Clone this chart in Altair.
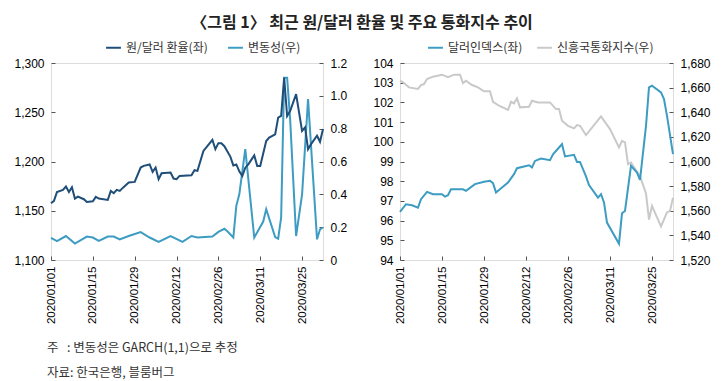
import altair as alt
import pandas as pd

FONT = "Noto Sans CJK KR"
NAVY = "#1f4e79"
TEAL = "#3d9cc2"
GRAY = "#c9c9c9"
TXT = "#333333"

title_text = "〈그림 1〉 최근 원/달러 환율 및 주요 통화지수 추이"
note_lines = ["주\u00a0\u00a0\u00a0: 변동성은 GARCH(1,1)으로 추정", "자료: 한국은행, 블룸버그"]

series_left = ["원/달러 환율(좌)", "변동성(우)"]
series_right = ["달러인덱스(좌)", "신흥국통화지수(우)"]

tick_dates = ["2020-01-01", "2020-01-15", "2020-01-29", "2020-02-12",
              "2020-02-26", "2020-03-11", "2020-03-25"]

won_dates = ["2020-01-01", "2020-01-02", "2020-01-03", "2020-01-05", "2020-01-06", "2020-01-07",
             "2020-01-08", "2020-01-09", "2020-01-10", "2020-01-12", "2020-01-13", "2020-01-15",
             "2020-01-16", "2020-01-17", "2020-01-20", "2020-01-21", "2020-01-22", "2020-01-23",
             "2020-01-24", "2020-01-25", "2020-01-27", "2020-01-29", "2020-01-31", "2020-02-01",
             "2020-02-03", "2020-02-04", "2020-02-05", "2020-02-06", "2020-02-07", "2020-02-10",
             "2020-02-11", "2020-02-12", "2020-02-13", "2020-02-17", "2020-02-18", "2020-02-19",
             "2020-02-21", "2020-02-24", "2020-02-25", "2020-02-26", "2020-02-27", "2020-02-28",
             "2020-03-01", "2020-03-02", "2020-03-03", "2020-03-04", "2020-03-05", "2020-03-06",
             "2020-03-07", "2020-03-09", "2020-03-10", "2020-03-11", "2020-03-13", "2020-03-14",
             "2020-03-16", "2020-03-17", "2020-03-18", "2020-03-19", "2020-03-20", "2020-03-21",
             "2020-03-23", "2020-03-25", "2020-03-26", "2020-03-27", "2020-03-28", "2020-03-30",
             "2020-03-31", "2020-04-01"]
won_values = [1157.6, 1160.0, 1169.0, 1171.2, 1174.6, 1169.1,
              1173.9, 1162.4, 1164.4, 1161.7, 1159.0, 1159.7,
              1164.1, 1162.4, 1161.0, 1170.2, 1167.8, 1171.2,
              1170.2, 1173.2, 1178.6, 1179.3, 1193.9, 1195.6,
              1197.0, 1189.5, 1193.9, 1182.0, 1188.1, 1188.8,
              1182.7, 1182.0, 1185.4, 1186.1, 1191.2, 1190.5,
              1210.8, 1222.0, 1212.5, 1218.6, 1218.6, 1215.5,
              1205.0, 1196.0, 1197.0, 1190.0, 1185.2, 1193.7,
              1197.1, 1206.2, 1195.4, 1195.4, 1220.8, 1224.3,
              1227.6, 1244.6, 1246.2, 1285.3, 1246.2, 1251.3,
              1268.4, 1231.1, 1234.6, 1212.5, 1217.6, 1226.1,
              1220.0, 1232.9]

vol_dates = ["2020-01-01", "2020-01-03", "2020-01-06", "2020-01-09", "2020-01-13", "2020-01-15",
             "2020-01-17", "2020-01-20", "2020-01-22", "2020-01-24", "2020-01-27", "2020-01-31",
             "2020-02-03", "2020-02-06", "2020-02-10", "2020-02-14", "2020-02-17", "2020-02-19",
             "2020-02-24", "2020-02-26", "2020-02-28", "2020-02-29", "2020-03-02", "2020-03-03",
             "2020-03-04", "2020-03-06", "2020-03-09", "2020-03-12", "2020-03-13", "2020-03-16",
             "2020-03-17", "2020-03-18", "2020-03-19", "2020-03-20", "2020-03-21", "2020-03-23",
             "2020-03-25", "2020-03-27", "2020-03-30", "2020-03-31", "2020-04-01"]
vol_values = [0.135, 0.115, 0.146, 0.100, 0.143, 0.137,
              0.116, 0.143, 0.143, 0.126, 0.146, 0.170,
              0.137, 0.110, 0.146, 0.110, 0.146, 0.137,
              0.143, 0.171, 0.190, 0.175, 0.137, 0.330,
              0.400, 0.675, 0.137, 0.234, 0.310, 0.140,
              0.130, 0.260, 1.110, 1.110, 0.860, 0.146,
              0.400, 0.980, 0.126, 0.187, 0.198]

dxy_dates = ["2020-01-01", "2020-01-03", "2020-01-05", "2020-01-07", "2020-01-08", "2020-01-10",
             "2020-01-12", "2020-01-15", "2020-01-16", "2020-01-17", "2020-01-18", "2020-01-22",
             "2020-01-23", "2020-01-26", "2020-01-29", "2020-01-31", "2020-02-01", "2020-02-02",
             "2020-02-04", "2020-02-06", "2020-02-08", "2020-02-09", "2020-02-13", "2020-02-14",
             "2020-02-15", "2020-02-17", "2020-02-20", "2020-02-21", "2020-02-23", "2020-02-24",
             "2020-02-25", "2020-02-28", "2020-02-29", "2020-03-01", "2020-03-03", "2020-03-04",
             "2020-03-07", "2020-03-08", "2020-03-09", "2020-03-10", "2020-03-14", "2020-03-15",
             "2020-03-16", "2020-03-18", "2020-03-20", "2020-03-21", "2020-03-23", "2020-03-24",
             "2020-03-25", "2020-03-28", "2020-03-29", "2020-03-30", "2020-04-01"]
dxy_values = [96.44, 96.83, 96.78, 96.66, 97.09, 97.46,
              97.34, 97.34, 97.22, 97.29, 97.59, 97.59,
              97.51, 97.85, 97.97, 98.02, 97.90, 97.43,
              97.68, 97.93, 98.36, 98.66, 98.81, 98.70,
              99.03, 99.15, 99.07, 99.37, 99.71, 99.88,
              99.26, 99.34, 98.98, 98.98, 98.24, 97.80,
              97.17, 97.34, 96.92, 95.90, 94.83, 96.37,
              96.49, 98.78, 98.44, 98.07, 100.81, 102.76,
              102.85, 102.51, 102.17, 101.32, 99.37]

em_dates = ["2020-01-01", "2020-01-02", "2020-01-04", "2020-01-07", "2020-01-08", "2020-01-09",
            "2020-01-10", "2020-01-12", "2020-01-15", "2020-01-17", "2020-01-19", "2020-01-21",
            "2020-01-22", "2020-01-23", "2020-01-25", "2020-01-27", "2020-01-29", "2020-01-31",
            "2020-02-01", "2020-02-03", "2020-02-06", "2020-02-07", "2020-02-08", "2020-02-09",
            "2020-02-10", "2020-02-13", "2020-02-14", "2020-02-16", "2020-02-20", "2020-02-22",
            "2020-02-23", "2020-02-24", "2020-02-26", "2020-02-28", "2020-02-29", "2020-03-01",
            "2020-03-03", "2020-03-08", "2020-03-11", "2020-03-14", "2020-03-15", "2020-03-16",
            "2020-03-17", "2020-03-18", "2020-03-21", "2020-03-23", "2020-03-24", "2020-03-25",
            "2020-03-28", "2020-03-30", "2020-03-31", "2020-04-01"]
em_values = [1665.6, 1664.3, 1660.2, 1658.9, 1662.1, 1662.9,
             1667.0, 1668.9, 1670.5, 1668.4, 1670.5, 1670.5,
             1663.7, 1665.6, 1662.1, 1660.2, 1657.0, 1657.0,
             1648.5, 1645.3, 1642.0, 1648.5, 1647.2, 1651.3,
             1644.0, 1644.5, 1649.3, 1648.0, 1648.0, 1642.6,
             1642.6, 1633.1, 1629.0, 1626.9, 1629.6, 1629.0,
             1621.4, 1636.6, 1626.3, 1611.4, 1616.8, 1615.5,
             1597.8, 1599.2, 1588.0, 1574.0, 1552.8, 1563.9,
             1547.2, 1558.6, 1559.9, 1570.5]

won_ticks = [1100, 1150, 1200, 1250, 1300]
vol_ticks = [0, 0.2, 0.4, 0.6, 0.8, 1.0, 1.2]
dxy_ticks = list(range(94, 105))
em_ticks = list(range(1520, 1681, 20))


def mk_df(dates, values, name):
    return pd.DataFrame({"date": dates, "value": values, "series": name})


def dt(s):
    return alt.DateTime(year=int(s[0:4]), month=int(s[5:7]), date=int(s[8:10]), utc=True)


x_domain = [dt("2020-01-01"), dt("2020-04-01")]


def x_enc():
    return alt.X(
        "date:T",
        scale=alt.Scale(type="utc", domain=x_domain),
        axis=alt.Axis(values=[dt(d) for d in tick_dates],
                      labelExpr="utcFormat(datum.value, '%Y/%m/%d')",
                      labelAngle=-90, title=None, tickSize=4,
                      offset=-4, domain=False, grid=False, labelPadding=6,
                      labelFontSize=11.5, tickColor="#555555"),
    )


def y_axis(vals, orient, fmt=None, expr=None, extent=36):
    kw = dict(values=vals, orient=orient, title=None, tickSize=4, offset=-4,
              domain=False, grid=False, labelPadding=7, labelFontSize=12,
              tickColor="#555555", minExtent=extent, maxExtent=extent)
    if fmt:
        kw["format"] = fmt
    if expr:
        kw["labelExpr"] = expr
    return alt.Axis(**kw)


def legend(x, y, pad=16):
    return alt.Legend(orient="none", legendX=x, legendY=y, direction="horizontal",
                      title=None, symbolType="stroke", symbolStrokeWidth=2,
                      symbolSize=220, labelFontSize=12, labelFont=FONT,
                      labelColor=TXT, columnPadding=pad, symbolOffset=0)


W, H = 272, 197

cl = alt.Scale(domain=series_left, range=[NAVY, TEAL])
cr = alt.Scale(domain=series_right, range=[TEAL, GRAY])

left_a = alt.Chart(mk_df(won_dates, won_values, series_left[0])).mark_line(strokeWidth=2).encode(
    x=x_enc(),
    y=alt.Y("value:Q", scale=alt.Scale(domain=[1100, 1300], nice=False),
            axis=y_axis(won_ticks, "left", fmt=",d")),
    color=alt.Color("series:N", scale=cl, legend=legend(54, -24)),
)
left_b = alt.Chart(mk_df(vol_dates, vol_values, series_left[1])).mark_line(strokeWidth=2).encode(
    x=x_enc(),
    y=alt.Y("value:Q", scale=alt.Scale(domain=[0, 1.2], nice=False),
            axis=y_axis(vol_ticks, "right",
                        expr="datum.value == 0 ? '0' : format(datum.value, '.1f')", extent=30)),
    color=alt.Color("series:N", scale=cl, legend=legend(54, -24)),
)
left = alt.layer(left_b, left_a).resolve_scale(y="independent").properties(
    width=W, height=H,
    title=alt.TitleParams(note_lines, orient="bottom", anchor="start", frame="group",
                          fontSize=12.5, font=FONT, fontWeight="normal", color=TXT,
                          lineHeight=25, offset=18, dx=-4),
)

right_a = alt.Chart(mk_df(dxy_dates, dxy_values, series_right[0])).mark_line(strokeWidth=2).encode(
    x=x_enc(),
    y=alt.Y("value:Q", scale=alt.Scale(domain=[94, 104], nice=False),
            axis=y_axis(dxy_ticks, "left", fmt="d", extent=30)),
    color=alt.Color("series:N", scale=cr, legend=legend(27, -24, 10)),
)
right_b = alt.Chart(mk_df(em_dates, em_values, series_right[1])).mark_line(strokeWidth=2).encode(
    x=x_enc(),
    y=alt.Y("value:Q", scale=alt.Scale(domain=[1520, 1680], nice=False),
            axis=y_axis(em_ticks, "right", fmt=",d")),
    color=alt.Color("series:N", scale=cr, legend=legend(27, -24, 10)),
)
right = alt.layer(right_b, right_a).resolve_scale(y="independent").properties(width=W + 1, height=H)

chart = alt.hconcat(left, right, spacing=22).resolve_scale(color="independent").properties(
    title=alt.TitleParams(title_text, fontSize=16, font=FONT, fontWeight="bold",
                          color="#222222", anchor="middle", offset=8),
    padding={"left": 5, "top": 6, "right": 5, "bottom": 5},
).configure_view(stroke="#999999", strokeWidth=1).configure_axis(
    labelFont=FONT, labelColor=TXT
).configure(background="white")

chart.save("out.html", embed_options={"renderer": "svg", "actions": False})
